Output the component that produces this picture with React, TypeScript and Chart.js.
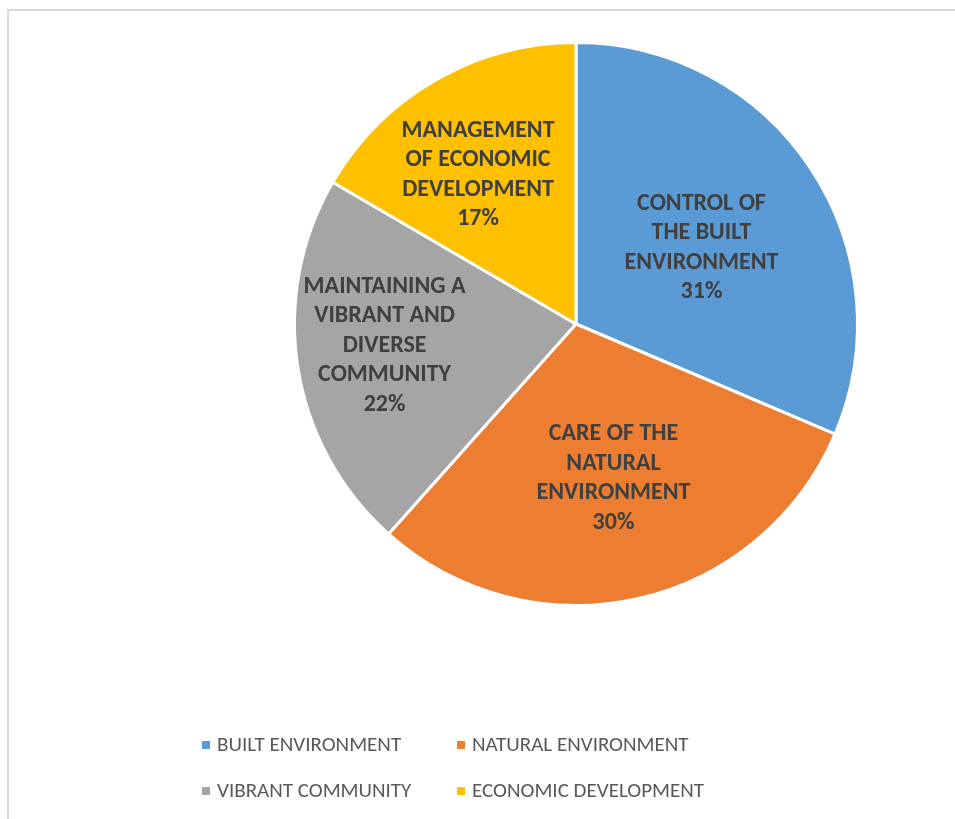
import React, { useEffect, useRef } from "react";
import { Chart, registerables } from "chart.js";

Chart.register(...registerables);

const categories = [
  "BUILT ENVIRONMENT",
  "NATURAL ENVIRONMENT",
  "VIBRANT COMMUNITY",
  "ECONOMIC DEVELOPMENT",
];
const sliceLabels = [
  "CONTROL OF\nTHE BUILT\nENVIRONMENT",
  "CARE OF THE\nNATURAL\nENVIRONMENT",
  "MAINTAINING A\nVIBRANT AND\nDIVERSE\nCOMMUNITY",
  "MANAGEMENT\nOF ECONOMIC\nDEVELOPMENT",
];
const values = [31.4, 30.2, 21.8, 16.6];
const colors = ["#5B9BD5", "#ED7D31", "#A5A5A5", "#FFC000"];

// label placement: fraction of radius and angle tweak (degrees)
const labelRadiusFraction = [0.523, 0.561, 0.684, 0.636];
const labelAngleTweak = [1.95, -1.13, 2.8, -3.28];

const sliceLabelPlugin = {
  id: "sliceLabels",
  afterDatasetsDraw(chart: any) {
    const ctx = chart.ctx;
    const meta = chart.getDatasetMeta(0);
    const data = chart.data.datasets[0].data as number[];
    const total = data.reduce((a, b) => a + b, 0);
    ctx.save();
    ctx.font = "bold 24px Carlito, Lato";
    ctx.fillStyle = "#404040";
    ctx.textAlign = "center";
    ctx.textBaseline = "middle";
    const lh = 29.4;
    meta.data.forEach((arc: any, i: number) => {
      const { x, y, startAngle, endAngle, outerRadius } = arc.getProps(
        ["x", "y", "startAngle", "endAngle", "outerRadius"],
        true
      );
      const mid = (startAngle + endAngle) / 2 + (labelAngleTweak[i] * Math.PI) / 180;
      const r = outerRadius * labelRadiusFraction[i];
      const cx = x + Math.cos(mid) * r;
      const cy = y + Math.sin(mid) * r;
      const lines = sliceLabels[i].split("\n");
      lines.push(Math.round((data[i] / total) * 100) + "%");
      const y0 = cy - ((lines.length - 1) * lh) / 2;
      lines.forEach((t, k) => ctx.fillText(t, cx, y0 + k * lh + 1));
    });
    ctx.restore();
  },
};

const legendPlugin = {
  id: "gridLegend",
  afterDraw(chart: any) {
    const ctx = chart.ctx;
    const labels = chart.data.labels as string[];
    const bg = chart.data.datasets[0].backgroundColor as string[];
    const colX = [193, 448];
    const rowY = [734, 780];
    ctx.save();
    ctx.font = "21px Carlito, Lato";
    ctx.textBaseline = "middle";
    ctx.textAlign = "left";
    labels.forEach((lab, i) => {
      const cx = colX[i % 2];
      const cy = rowY[Math.floor(i / 2)];
      ctx.fillStyle = bg[i];
      ctx.fillRect(cx, cy - 4, 8, 8);
      ctx.fillStyle = "#595959";
      ctx.fillText(lab, cx + 15, cy + 1);
    });
    ctx.restore();
  },
};

export default function App() {
  const ref = useRef<HTMLCanvasElement>(null);
  useEffect(() => {
    if (!ref.current) return;
    const chart = new Chart(ref.current, {
      type: "pie",
      data: {
        labels: categories,
        datasets: [
          {
            data: values,
            backgroundColor: colors,
            borderColor: "#ffffff",
            borderWidth: 3,
          },
        ],
      },
      options: {
        animation: false,
        responsive: false,
        rotation: 0,
        layout: { padding: { top: 30, left: 284, right: 96, bottom: 212 } },
        plugins: {
          legend: { display: false },
          tooltip: { enabled: false },
        },
      },
      plugins: [sliceLabelPlugin, legendPlugin],
    });
    return () => chart.destroy();
  }, []);
  return (
    <div
      style={{
        position: "absolute",
        left: 7,
        top: 9,
        width: 946,
        height: 808,
        borderTop: "2px solid #d9d9d9",
        borderLeft: "2px solid #d9d9d9",
        overflow: "hidden",
        background: "#fff",
      }}
    >
      <canvas ref={ref} width={946} height={808} style={{ display: "block" }} />
    </div>
  );
}
